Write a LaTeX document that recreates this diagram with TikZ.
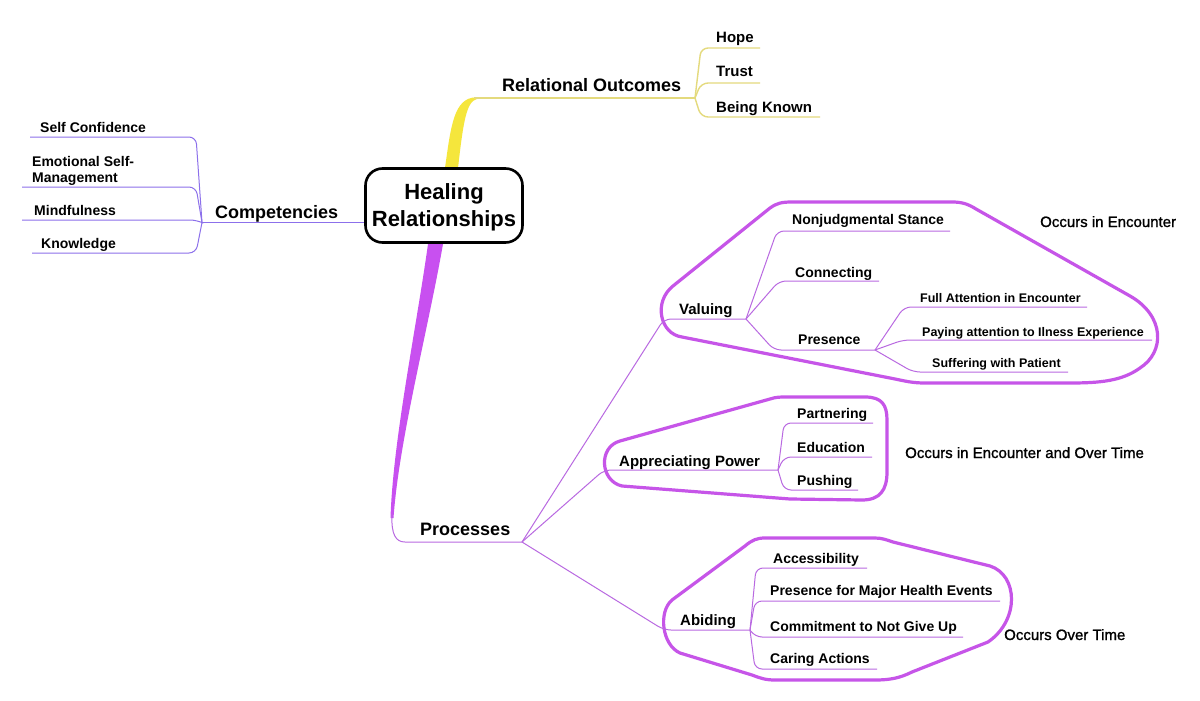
\documentclass[tikz,border=0pt]{standalone}
\usepackage{fontspec}
\setmainfont{Liberation Sans}
\newfontfamily\medfont[FakeBold=1.2]{Liberation Sans}
\definecolor{pthin}{RGB}{185,105,225}
\definecolor{pout}{RGB}{198,85,232}
\definecolor{pthick}{RGB}{200,80,240}
\definecolor{bthin}{RGB}{140,112,235}
\definecolor{ythin}{RGB}{228,218,125}
\definecolor{ythick}{RGB}{245,230,60}
\newcommand\kid[6]{%
  \coordinate (#3-c) at (#4,#6);
  \coordinate (#3-e) at (#5,#6);
  \draw[#1] (#2) -- (#3-c) -- (#3-e);}
\begin{document}
\begin{tikzpicture}[x=1pt,y=-1pt,
  tx/.style={inner sep=0pt, anchor=base west, text=black},
  t18/.style={tx, font=\bfseries\fontsize{18}{21}\selectfont},
  t15/.style={tx, font=\bfseries\fontsize{15}{18}\selectfont},
  t14/.style={tx, font=\bfseries\fontsize{14}{16}\selectfont},
  t125/.style={tx, font=\bfseries\fontsize{12.5}{15}\selectfont},
  note/.style={tx, font=\medfont\fontsize{15}{18}\selectfont},
  pl/.style={draw=pthin, line width=1pt, rounded corners=7pt},
  bl/.style={draw=bthin, line width=1pt, rounded corners=7pt},
  yl/.style={draw=ythin, line width=1.4pt, rounded corners=7pt},
  outl/.style={draw=pout, line width=3.2pt, line join=round},
  central/.style={draw=black, line width=2.6pt, rounded corners=17pt, fill=white,
    minimum width=157pt, minimum height=74pt, align=center, inner sep=0pt,
    font=\bfseries\fontsize{22}{27}\selectfont}]
\useasboundingbox[fill=white] (0,0) rectangle (1200,701);

% fan points
\coordinate (cfan) at (202,222.5);
\coordinate (rfan) at (695,98);
\coordinate (pfan) at (522,542);
\coordinate (vfan) at (746,319);
\coordinate (prfan) at (875,350);
\coordinate (afan) at (778,470);
\coordinate (bfan) at (750,630);
\coordinate (ro-s) at (474,98);
\coordinate (pr-s) at (392,514);

% group outlines
\draw[outl] (682,337) .. controls (660,334) and (653,302) .. (673,286)
  -- (770,208) .. controls (777,203) and (782,202) .. (792,202)
  -- (952,202) .. controls (962,202) and (968,204) .. (976,209)
  -- (1130,296) .. controls (1165,316) and (1165,352) .. (1140,368)
  .. controls (1122,381) and (1100,383) .. (1070,383)
  -- (925,383) .. controls (912,383) and (905,381) .. (895,379)
  -- cycle;
\draw[outl] (622,486) .. controls (600,481) and (598,447) .. (620,441)
  -- (770,399) .. controls (776,397) and (780,397) .. (786,397)
  -- (865,397) .. controls (882,397) and (887,405) .. (887,420)
  -- (887,472) .. controls (887,490) and (880,500) .. (862,500)
  -- (790,499) -- cycle;
\draw[outl] (680,653) .. controls (662,645) and (658,612) .. (672,600)
  -- (745,546) .. controls (752,540) and (757,538) .. (765,538)
  -- (875,538) .. controls (882,538) and (887,540) .. (893,542)
  -- (990,566) .. controls (1018,575) and (1020,620) .. (988,642)
  -- (912,672) .. controls (900,678) and (890,680) .. (875,680)
  -- (775,680) .. controls (765,680) and (760,678) .. (752,675)
  -- cycle;

% thick main branches
\fill[ythick] (445,168) .. controls (451,125) and (454,98) .. (476,97.3)
  -- (477,99) .. controls (466,101) and (463,125) .. (458,168) -- cycle;
\fill[pthick] (428,244) .. controls (416,330) and (393,440) .. (390.5,518)
  -- (393.5,518) .. controls (399,440) and (428,330) .. (443,244) -- cycle;

% central node
\node[central] (hr) at (444,205.5) {\rule{0pt}{20pt}Healing\\Relationships};

% Competencies
\draw[draw=bthin, line width=1.3pt] (cfan) -- (hr.west |- cfan);
\kid{bl}{cfan}{sc}{196}{30}{137}
\kid{bl}{cfan}{emo}{196}{22}{187}
\kid{bl}{cfan}{mind}{197}{22}{220}
\kid{bl}{cfan}{know}{196}{32}{253}
\node[t18] (comp) at (215,218) {Competencies};
\node[t14] (sc) at (40,132) {Self Confidence};
\node[t14] (emo) at (32,166) {Emotional Self-};
\node[t14] (emo2) at (32,182) {Management};
\node[t14] (mind) at (34,215) {Mindfulness};
\node[t14] (know) at (41,248) {Knowledge};

% Relational Outcomes
\draw[yl] (ro-s) -- (rfan);
\kid{yl}{rfan}{hope}{701}{760}{48}
\kid{yl}{rfan}{trust}{701}{760}{83}
\kid{yl}{rfan}{bk}{701}{820}{117}
\node[t18] (ro) at (502,92) {Relational Outcomes};
\node[t15] (hope) at (716,43) {Hope};
\node[t15] (trust) at (716,77) {Trust};
\node[t15] (bk) at (716,112) {Being Known};

% Processes
\draw[pl] (pr-s) .. controls (391,535) and (396,542) .. (412,542) -- (pfan);
\node[t18] (proc) at (420,535) {Processes};
\kid{pl}{pfan}{valul}{664}{746}{319}
\kid{pl}{pfan}{apul}{604}{778}{470}
\kid{pl}{pfan}{abul}{664}{750}{630}

% Valuing
\node[t15] (val) at (679,314) {Valuing};
\kid{pl}{vfan}{nj}{777}{950}{231}
\kid{pl}{vfan}{con}{779}{879}{281}
\kid{pl}{vfan}{presul}{774}{875}{350}
\node[t14] (nj) at (792,224) {Nonjudgmental Stance};
\node[t14] (con) at (795,277) {Connecting};
\node[t14] (pres) at (798,344) {Presence};
\kid{pl}{prfan}{fa}{904}{1087}{307}
\kid{pl}{prfan}{pay}{903}{1152}{340}
\kid{pl}{prfan}{suf}{913}{1068}{372}
\node[t125] (fa) at (920,302) {Full Attention in Encounter};
\node[t125] (pay) at (922,336) {Paying attention to Ilness Experience};
\node[t125] (suf) at (932,367) {Suffering with Patient};

% Appreciating Power
\node[t15] (ap) at (619,466) {Appreciating Power};
\kid{pl}{afan}{part}{784}{873}{423}
\kid{pl}{afan}{edu}{784}{872}{457}
\kid{pl}{afan}{push}{784}{858}{490}
\node[t14] (part) at (797,418) {Partnering};
\node[t14] (edu) at (797,452) {Education};
\node[t14] (push) at (797,485) {Pushing};

% Abiding
\node[t15] (abi) at (680,625) {Abiding};
\kid{pl}{bfan}{acc}{756}{867}{568}
\kid{pl}{bfan}{pmh}{755}{1000}{601}
\kid{pl}{bfan}{com}{755}{963}{637}
\kid{pl}{bfan}{car}{755}{877}{669}
\node[t14] (acc) at (773,563) {Accessibility};
\node[t14] (pmh) at (770,595) {Presence for Major Health Events};
\node[t14] (com) at (770,631) {Commitment to Not Give Up};
\node[t14] (car) at (770,663) {Caring Actions};

% notes
\node[note] (n1) at (1040,227) {Occurs in Encounter};
\node[note] (n2) at (905,458) {Occurs in Encounter and Over Time};
\node[note] (n3) at (1004,640) {Occurs Over Time};
\end{tikzpicture}
\end{document}
